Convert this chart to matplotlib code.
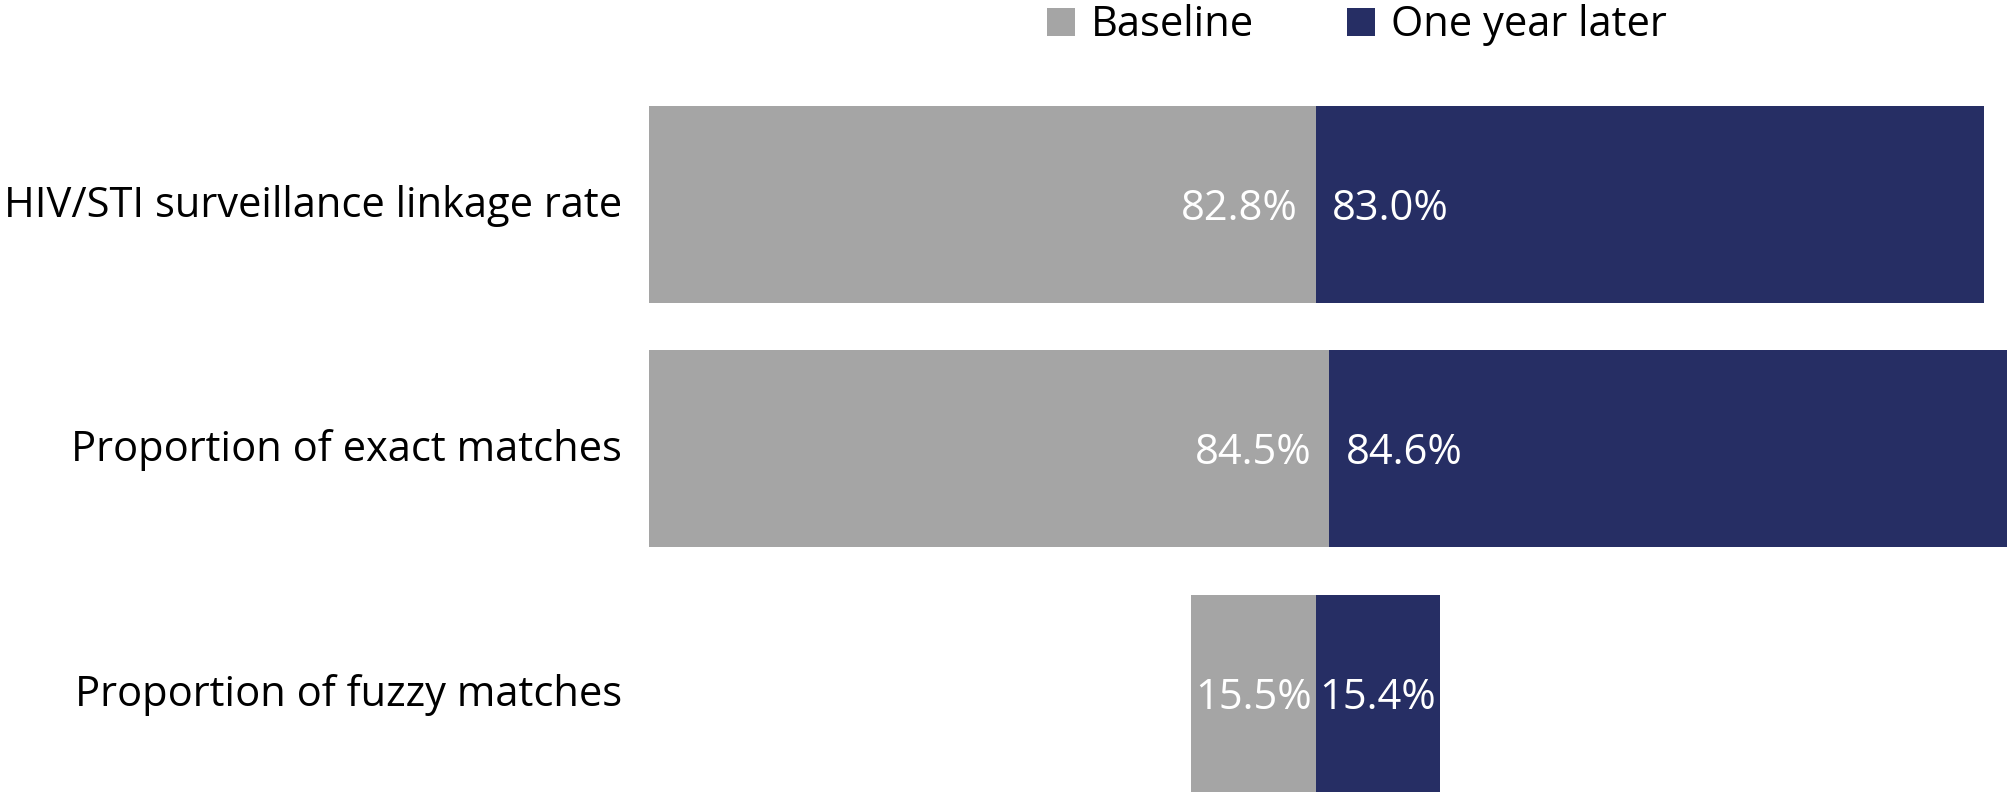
import matplotlib
matplotlib.use("Agg")
from matplotlib import pyplot as plt
import numpy as np

# data
categories = ['HIV/STI surveillance linkage rate',
              'Proportion of exact matches',
              'Proportion of fuzzy matches']
baseline = [82.8, 84.5, 15.5]
one_year = [83.0, 84.6, 15.4]
series_names = ['Baseline', 'One year later']

gray = '#A5A5A5'
navy = '#262E64'
plt.rcParams['font.family'] = ['Open Sans', 'DejaVu Sans']
fs = 30

# invisible spacer so the bars line up on the first row's split
spacer = [max(0.0, baseline[0] - b) for b in baseline]

fig = plt.figure(figsize=(20.07, 7.92), dpi=100)
ax = fig.add_axes([649 / 2007, 0, 1 - 649 / 2007, 1])

y = np.arange(len(categories))
h = 0.806
b1 = ax.barh(y, baseline, h, left=spacer, color=gray, label=series_names[0])
b2 = ax.barh(y, one_year, h, left=np.array(spacer) + np.array(baseline),
             color=navy, label=series_names[1])

ax.set_xlim(0, (2007 - 649) / 8.05)
ax.set_ylim(2.403, -0.836)
ax.axis('off')

# value labels
for i in range(len(categories)):
    split = spacer[i] + baseline[i]
    if baseline[i] > 30:
        ax.annotate('%.1f%%' % baseline[i], (split, y[i]), xytext=(-13, -11.2),
                    textcoords='offset points', ha='right', va='baseline',
                    color='white', fontsize=fs)
        ax.annotate('%.1f%%' % one_year[i], (split, y[i]), xytext=(12, -11.2),
                    textcoords='offset points', ha='left', va='baseline',
                    color='white', fontsize=fs)
    else:
        ax.annotate('%.1f%%' % baseline[i], (split - baseline[i] / 2, y[i]),
                    xytext=(0, -11.2), textcoords='offset points', ha='center',
                    va='baseline', color='white', fontsize=fs)
        ax.annotate('%.1f%%' % one_year[i], (split + one_year[i] / 2, y[i]),
                    xytext=(0, -11.2), textcoords='offset points', ha='center',
                    va='baseline', color='white', fontsize=fs)

# category labels left of the bars
for i, cat in enumerate(categories):
    ax.annotate(cat, (0, y[i]), xytext=(-19.5, -9), textcoords='offset points',
                ha='right', va='baseline', fontsize=fs, color='black',
                annotation_clip=False)

fig.legend(handles=[b1, b2], loc='upper left', bbox_to_anchor=(1045 / 2007, 0.997),
           ncol=2, frameon=False, fontsize=fs, handlelength=0.67,
           handleheight=0.67, handletextpad=0.37, columnspacing=2.25,
           borderpad=0.05, borderaxespad=0)

plt.savefig('out.png', dpi=100)
